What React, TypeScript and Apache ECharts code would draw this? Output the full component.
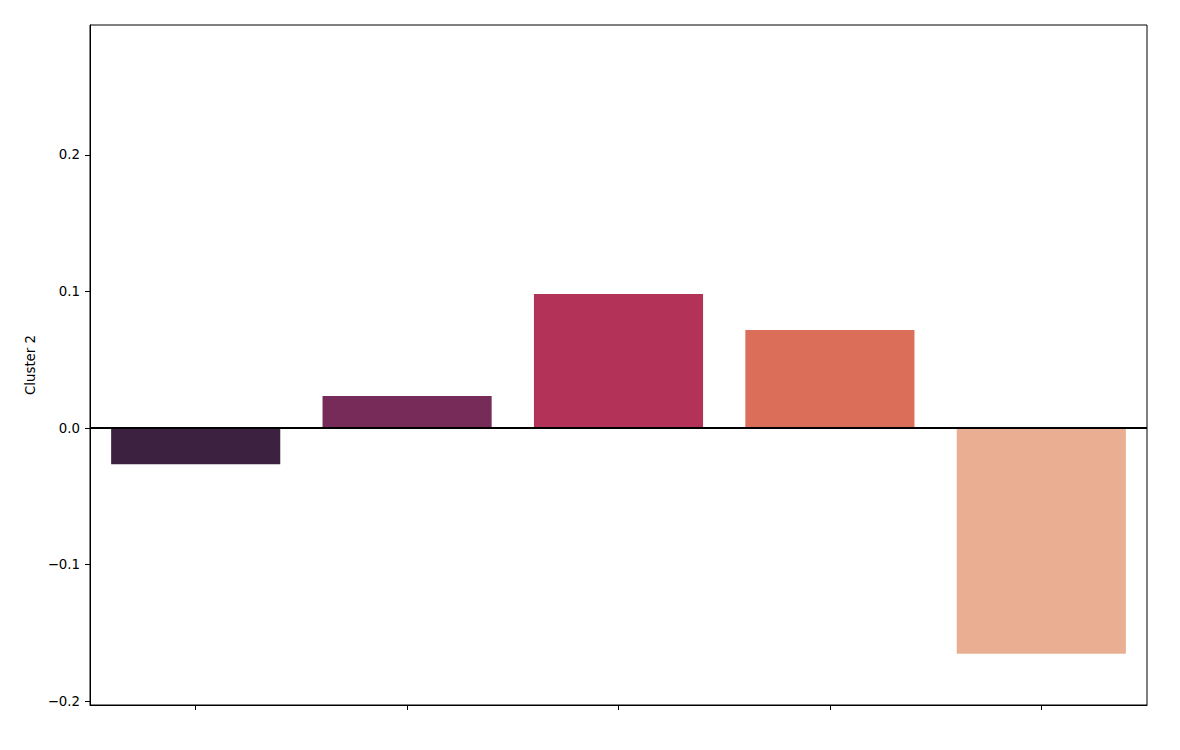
import React, { useEffect, useRef } from "react";
import * as echarts from "echarts";

const categories = ["A", "B", "C", "D", "E"];
const values = [-0.0266, 0.0234, 0.0982, 0.0718, -0.1654];
const colors = ["#3c2140", "#772b59", "#b33257", "#db6e59", "#eaaf93"];
const yTicks = [-0.2, -0.1, 0.0, 0.1, 0.2];
const yName = "Cluster 2";

const fmt = (v: number) => {
  const s = Math.abs(v).toFixed(1);
  return v < -1e-9 ? "\u2212" + s : s;
};

export default function App() {
  const ref = useRef<HTMLDivElement>(null);
  useEffect(() => {
    if (!ref.current) return;
    const chart = echarts.init(ref.current, null, { renderer: "svg" });
    const font = "'DejaVu Sans', sans-serif";
    chart.setOption({
      animation: false,
      backgroundColor: "#ffffff",
      grid: {
        left: 90,
        top: 25,
        width: 1057,
        height: 680,
        show: true,
        borderColor: "#000",
        borderWidth: 1,
        backgroundColor: "transparent",
        containLabel: false,
      },
      xAxis: {
        type: "category",
        data: categories,
        axisLine: { show: true, onZero: false, lineStyle: { color: "#000", width: 1 } },
        axisTick: { show: true, alignWithLabel: true, interval: 0, length: 5, lineStyle: { color: "#000" } },
        axisLabel: { show: false },
        splitLine: { show: false },
      },
      yAxis: {
        type: "value",
        min: -0.2029,
        max: 0.2952,
        name: yName,
        nameLocation: "middle",
        nameGap: 50,
        nameRotate: 90,
        nameTextStyle: { fontFamily: font, fontSize: 13.33, color: "#000" },
        axisLine: { show: true, lineStyle: { color: "#000", width: 1 } },
        axisTick: { show: true, length: 5, customValues: yTicks, lineStyle: { color: "#000" } },
        axisLabel: {
          show: true,
          customValues: yTicks,
          formatter: (v: number) => fmt(v),
          fontFamily: font,
          fontSize: 13.33,
          color: "#000",
          margin: 10,
        },
        splitLine: { show: false },
      },
      series: [
        {
          type: "bar",
          barCategoryGap: "20%",
          data: values.map((v, i) => ({ value: v, itemStyle: { color: colors[i] } })),
          markLine: {
            silent: true,
            symbol: "none",
            label: { show: false },
            lineStyle: { color: "#000", width: 2, type: "solid" },
            data: [{ yAxis: 0 }],
          },
        },
      ],
    });
    return () => chart.dispose();
  }, []);
  return (
    <div
      ref={ref}
      style={{ position: "fixed", left: 0, top: 0, width: 1180, height: 750 }}
    />
  );
}
